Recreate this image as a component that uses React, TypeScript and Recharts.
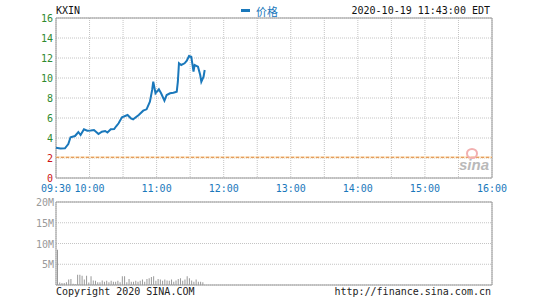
import React from 'react';
import {
  ComposedChart,
  Line,
  Bar,
  XAxis,
  YAxis,
  CartesianGrid,
  ReferenceLine,
  ReferenceArea,
} from 'recharts';

// --- data ---
const symbol = 'KXIN';
const stamp = '2020-10-19 11:43:00 EDT';
const prevClose = 2.07;

const gridTimes = [
  '09:30', '10:00', '10:30', '11:00', '11:30', '12:00', '12:30',
  '13:00', '13:30', '14:00', '14:30', '15:00', '15:30', '16:00',
];
const timeLabels = ['09:30', '10:00', '11:00', '12:00', '13:00', '14:00', '15:00', '16:00'];

const priceTicks = [0, 2, 4, 6, 8, 10, 12, 14, 16];
const pctLabels = [
  '-100.00%', '-3.38%', '+93.24%', '+189.86%', '+286.47%',
  '+383.09%', '+479.71%', '+576.33%', '+672.95%',
];

const priceTimes = [
  '09:30', '09:34', '09:38', '09:41', '09:43', '09:47', '09:50', '09:52', '09:55', '09:58',
  '10:01', '10:04', '10:08', '10:11', '10:14', '10:16', '10:19', '10:22', '10:24', '10:26',
  '10:29', '10:34', '10:37', '10:39', '10:44', '10:48', '10:51', '10:54', '10:56', '10:57',
  '10:59', '11:02', '11:04', '11:07', '11:09', '11:12', '11:15', '11:18', '11:19', '11:20',
  '11:22', '11:25', '11:27', '11:29', '11:31', '11:33', '11:34', '11:37', '11:39', '11:40',
  '11:42', '11:43',
];
const prices = [
  3.03, 2.95, 2.97, 3.4, 4.07, 4.2, 4.6, 4.3, 4.87, 4.73,
  4.75, 4.8, 4.4, 4.63, 4.7, 4.55, 4.87, 4.9, 5.2, 5.47,
  6.07, 6.3, 5.97, 5.87, 6.3, 6.73, 6.87, 7.63, 8.8, 9.63,
  8.47, 8.87, 8.47, 7.73, 8.3, 8.47, 8.53, 8.63, 9.63, 11.47,
  11.3, 11.47, 11.73, 12.2, 12.13, 10.63, 11.3, 11.13, 10.3, 9.63,
  10.13, 10.8,
];

// volume in millions, one bar every 2 minutes
const volStart = '09:31';
const volStep = 2;
const volumes = [
  8.5, 0.6, 0.5, 0.5, 0.65, 1.3, 1.45, 0.3, 0.2, 2.5,
  2.5, 2.25, 1.3, 2.25, 0.6, 2.1, 1.1, 1.0, 0.65, 0.65,
  1.1, 0.8, 1.0, 0.65, 1.0, 0.8, 0.8, 1.0, 0.65, 2.1,
  2.1, 0.65, 1.45, 0.8, 0.8, 1.0, 0.8, 1.0, 1.3, 0.8,
  1.45, 1.6, 1.95, 2.1, 1.0, 1.45, 1.3, 1.0, 1.3, 1.1,
  1.0, 1.3, 0.8, 1.1, 1.45, 1.6, 1.0, 1.3, 2.1, 1.6,
  1.1, 0.8, 1.3, 0.8, 0.8, 0.65,
];
const volTicks = [0, 5, 10, 15, 20];

const toMin = (t: string) => {
  const [h, m] = t.split(':').map(Number);
  return (h - 9) * 60 + m - 30;
};

const gridMins = gridTimes.map(toMin);
const priceData = priceTimes.map((t, i) => ({ t: toMin(t), price: prices[i] }));
const volData = volumes.map((v, i) => ({ t: toMin(volStart) + i * volStep, vol: v }));

const MONO = '"DejaVu Sans Mono", "Liberation Mono", monospace';
const GREEN = '#2f8a2f';
const RED = '#cc1111';
const BLUE = '#1a78bb';
const GRID = '#c4c4c4';
const BORDER = '#9a9a9a';

const LeftTick = (props: any) => {
  const { x, y, payload } = props;
  const v = payload.value;
  return (
    <text x={x} y={y} dy={4} textAnchor="end" fontFamily={MONO} fontSize={10} fill={v <= 2 ? RED : GREEN}>
      {v}
    </text>
  );
};

const RightTick = (props: any) => {
  const { x, y, payload } = props;
  const idx = priceTicks.indexOf(payload.value);
  const label = pctLabels[idx];
  return (
    <text x={x} y={y} dy={4} textAnchor="start" fontFamily={MONO} fontSize={10} fill={label.startsWith('-') ? RED : GREEN}>
      {label}
    </text>
  );
};

const TimeTick = (props: any) => {
  const { x, y, payload } = props;
  const label = gridTimes[gridMins.indexOf(payload.value)];
  if (!timeLabels.includes(label)) return null;
  return (
    <text x={x} y={y} dy={14} textAnchor="middle" fontFamily={MONO} fontSize={10} fill={BLUE}>
      {label}
    </text>
  );
};

const VolTick = (props: any) => {
  const { x, y, payload } = props;
  if (payload.value === 0) return null;
  return (
    <text x={x} y={y} dy={4} textAnchor="end" fontFamily={MONO} fontSize={10} fill="#9a9a9a">
      {payload.value + 'M'}
    </text>
  );
};

export default function App() {
  return (
    <div
      style={{
        position: 'absolute',
        left: 0,
        top: 0,
        width: 545,
        height: 300,
        background: '#fff',
        fontFamily: MONO,
        overflow: 'hidden',
      }}
    >
      {/* header */}
      <div style={{ position: 'absolute', left: 56, top: 5, fontSize: 10, color: '#111' }}>{symbol}</div>
      <div style={{ position: 'absolute', left: 241, top: 9, width: 9, height: 3, background: BLUE }} />
      <div
        style={{
          position: 'absolute',
          left: 256,
          top: 3,
          fontSize: 11,
          color: BLUE,
          fontFamily: '"Noto Sans CJK SC", sans-serif',
        }}
      >
        价格
      </div>
      <div style={{ position: 'absolute', right: 55, top: 5, fontSize: 10, color: '#111' }}>{stamp}</div>

      {/* price chart */}
      <div style={{ position: 'absolute', left: 0, top: 0 }}>
        <ComposedChart width={545} height={200} data={priceData} margin={{ top: 18, right: 0, bottom: 0, left: 0 }}>
          <CartesianGrid yAxisId="left" stroke={GRID} strokeDasharray="1 1" />
          <XAxis
            dataKey="t"
            type="number"
            domain={[0, 390]}
            ticks={gridMins}
            interval={0}
            height={22}
            tickSize={0}
            tickMargin={0}
            axisLine={false}
            tickLine={false}
            tick={<TimeTick />}
          />
          <YAxis
            yAxisId="left"
            domain={[0, 16]}
            ticks={priceTicks}
            interval={0}
            width={56}
            tickSize={0}
            tickMargin={3}
            axisLine={false}
            tickLine={false}
            tick={<LeftTick />}
          />
          <YAxis
            yAxisId="right"
            orientation="right"
            domain={[0, 16]}
            ticks={priceTicks}
            interval={0}
            width={53}
            tickSize={0}
            tickMargin={3}
            axisLine={false}
            tickLine={false}
            tick={<RightTick />}
          />
          <ReferenceLine yAxisId="left" y={prevClose} stroke="#fde6c4" strokeWidth={2} />
          <ReferenceLine yAxisId="left" y={prevClose} stroke="#de8a45" strokeDasharray="3 2" />
          <ReferenceArea yAxisId="left" x1={0} x2={390} y1={0} y2={16} fill="none" stroke={BORDER} strokeOpacity={1} />
          <Line
            yAxisId="left"
            dataKey="price"
            stroke={BLUE}
            strokeWidth={2}
            dot={false}
            type="linear"
            isAnimationActive={false}
          />
        </ComposedChart>
      </div>

      {/* sina watermark */}
      <div
        style={{
          position: 'absolute',
          left: 466,
          top: 148,
          width: 8,
          height: 7,
          borderRadius: '50%',
          border: '2px solid #f2b0b0',
        }}
      />
      <div
        style={{
          position: 'absolute',
          left: 459,
          top: 156,
          fontSize: 15,
          fontWeight: 'bold',
          fontStyle: 'italic',
          color: '#b9b9b9',
          fontFamily: '"Liberation Sans", Arial, sans-serif',
        }}
      >
        sina
      </div>

      {/* volume chart */}
      <div style={{ position: 'absolute', left: 0, top: 190 }}>
        <ComposedChart width={545} height={110} data={volData} margin={{ top: 12, right: 53, bottom: 15, left: 0 }}>
          <CartesianGrid stroke={GRID} strokeDasharray="1 1" />
          <XAxis
            dataKey="t"
            type="number"
            domain={[0, 390]}
            ticks={gridMins}
            interval={0}
            height={0}
            tick={false}
            axisLine={false}
            tickLine={false}
          />
          <YAxis
            domain={[0, 20]}
            ticks={volTicks}
            interval={0}
            width={56}
            tickSize={0}
            tickMargin={2}
            axisLine={false}
            tickLine={false}
            tick={<VolTick />}
          />
          <ReferenceArea x1={0} x2={390} y1={0} y2={20} fill="none" stroke={BORDER} strokeOpacity={1} />
          <Bar dataKey="vol" fill="#999" barSize={1} isAnimationActive={false} />
        </ComposedChart>
      </div>

      {/* footer */}
      <div style={{ position: 'absolute', left: 56, top: 286, fontSize: 10, color: '#222' }}>
        Copyright 2020 SINA.COM
      </div>
      <div style={{ position: 'absolute', right: 54, top: 286, fontSize: 10, color: '#222' }}>
        http://finance.sina.com.cn
      </div>
    </div>
  );
}
